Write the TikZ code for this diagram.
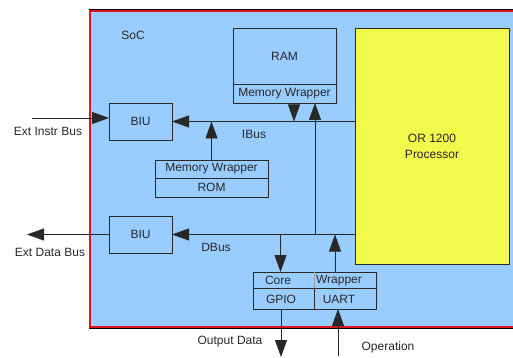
\documentclass[tikz,border=0pt]{standalone}
\usepackage{fontspec}
\setmainfont{Liberation Sans}
\usetikzlibrary{arrows.meta}
\definecolor{socblue}{RGB}{153,204,255}
\definecolor{procyellow}{RGB}{241,249,76}
\definecolor{socred}{RGB}{224,20,36}
\definecolor{ink}{RGB}{40,40,40}
\begin{document}
\begin{tikzpicture}[x=1pt,y=-1pt,
  font=\fontsize{12}{14}\selectfont, text=ink,
  box/.style={draw=ink, line width=0.9pt, fill=socblue, inner sep=0pt, outer sep=0pt},
  lbl/.style={inner sep=0pt},
  arr/.style={draw=ink, line width=0.9pt, -{Triangle[length=17pt,width=12pt]}}]
\useasboundingbox (0,0) rectangle (513,358);
% SoC frame
\fill[socblue] (89,11) rectangle (513,327);
\draw[black, line width=1pt] (89,9.8) -- (513,9.8);
\draw[black, line width=1pt] (89,328.6) -- (513,328.6);
\draw[socred, line width=2pt] (513,11.5) -- (89.5,11.5) -- (89.5,326.8) -- (513,326.8);
\node[lbl] (soc) at (133,35) {SoC};
% RAM
\node[box, minimum width=103pt, minimum height=56pt] (ram) at (284.5,56) {RAM};
\node[box, minimum width=103pt, minimum height=19pt] (ramw) at (284.5,93.5) {Memory Wrapper};
% Processor
\node[box, fill=procyellow, minimum width=154pt, minimum height=236pt, align=center, font=\fontsize{12}{16}\selectfont] (proc) at (432,146) {OR 1200\\Processor};
% BIUs
\node[box, minimum width=63pt, minimum height=37pt] (biu1) at (140.5,121.5) {BIU};
\node[box, minimum width=63pt, minimum height=37pt] (biu2) at (140.5,234.5) {BIU};
% ROM
\node[box, minimum width=113pt, minimum height=18pt] (romw) at (211.5,169) {Memory Wrapper};
\node[box, minimum width=113pt, minimum height=19pt] (rom) at (211.5,187.5) {ROM};
% GPIO / UART
\node[box, minimum width=123pt, minimum height=16.5pt] (cw) at (314.5,280.25) {};
\draw[ink!45, line width=0.7pt] (cw.north) ++(-0.5,0) -- ([xshift=-0.5pt]cw.south);
\node[lbl] (core) at (278,280.5) {Core};
\node[lbl] (wrap) at (339,280.5) {Wrapper};
\node[box, minimum width=61pt, minimum height=20.5pt] (gpio) at (283.5,298.75) {};
\node[box, minimum width=62pt, minimum height=20.5pt] (uart) at (345,298.75) {};
\node[lbl] (gpiot) at (281,299.5) {GPIO};
\node[lbl] (uartt) at (339,299.5) {UART};
% free ends
\coordinate (ein) at (32,118);
\coordinate (edb) at (27,234.5);
\coordinate (od) at (281,357);
\coordinate (op) at (338,356);
% buses
\draw[arr] (proc.west |- biu1.east) -- (biu1.east);
\draw[arr] (proc.west |- biu2.east) -- (biu2.east);
\draw[arr] (romw.north) -- (romw.north |- biu1.east);
\draw[arr] ([xshift=9.5pt]ramw.south) -- ([xshift=9.5pt]ramw.south |- biu1.east);
\draw[arr] ([xshift=30.5pt]ramw.south |- biu2.east) -- ([xshift=30.5pt]ramw.south);
\draw[arr] ([xshift=-34pt]cw.north |- biu2.east) -- ([xshift=-34pt]cw.north);
\draw[arr] ([xshift=20.5pt]cw.north) -- ([xshift=20.5pt]cw.north |- biu2.east);
\draw[arr] (ein) -- (biu1.west |- ein);
\draw[arr] (biu2.west) -- (edb);
\draw[arr] (gpio.south -| od) -- (od);
\draw[arr] (op) -- (op |- uart.south);
% labels
\node[lbl] (ibus) at (254,134) {IBus};
\node[lbl] (dbus) at (216,247) {DBus};
\node[lbl] (einl) at (48,131) {Ext Instr Bus};
\node[lbl] (edbl) at (50,252) {Ext Data Bus};
\node[lbl] (odl) at (230,342) {Output Data};
\node[lbl] (opl) at (388,347) {Operation};
\end{tikzpicture}
\end{document}
